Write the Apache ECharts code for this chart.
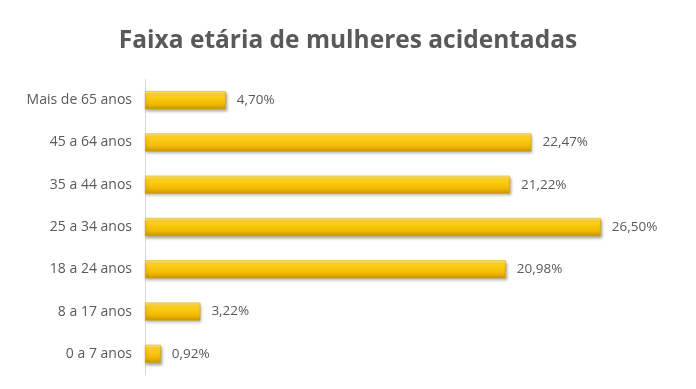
<!DOCTYPE html>
<html><head><meta charset="utf-8">
<script src="https://cdn.jsdelivr.net/npm/echarts@6/dist/echarts.min.js"></script>
<style>html,body{margin:0;padding:0;background:#fff}#c{width:696px;height:389px}</style>
</head><body><div id="c"></div>
<script>
var categories = ["0 a 7 anos","8 a 17 anos","18 a 24 anos","25 a 34 anos","35 a 44 anos","45 a 64 anos","Mais de 65 anos"];
var values = [0.92, 3.22, 20.98, 26.50, 21.22, 22.47, 4.70];
var chart = echarts.init(document.getElementById('c'));
chart.setOption({
  animation:false,
  title:{text:'Faixa etária de mulheres acidentadas',left:'center',top:24,
    textStyle:{fontFamily:'Open Sans',fontWeight:'bold',fontSize:24.5,color:'#595959'}},
  grid:{left:145,top:79,bottom:14,right:35,containLabel:false},
  xAxis:{type:'value',min:0,max:30,show:false},
  yAxis:{type:'category',data:categories,
    axisLine:{lineStyle:{color:'#d9d9d9'}},axisTick:{show:false},
    axisLabel:{color:'#595959',fontFamily:'Open Sans',fontSize:14,margin:13}},
  series:[{type:'bar',data:values,barWidth:18,
    itemStyle:{color:new echarts.graphic.LinearGradient(0,0,0,1,[
      {offset:0,color:'#FFE98A'},{offset:0.2,color:'#FFD21F'},{offset:0.7,color:'#F2BA00'},{offset:1,color:'#C99400'}]),
      borderColor:'#D6A200',borderWidth:0.5,
      shadowColor:'rgba(0,0,0,0.35)',shadowBlur:3,shadowOffsetX:1,shadowOffsetY:2},
    label:{show:true,position:'right',distance:11,color:'#595959',fontFamily:'Open Sans',fontSize:13.5,
      formatter:function(p){return p.value.toFixed(2).replace('.',',')+'%';}}}]
});
</script></body></html>
